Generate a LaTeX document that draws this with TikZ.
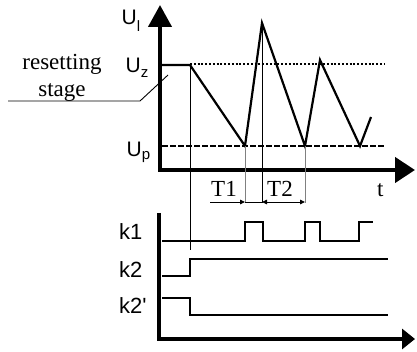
\documentclass[tikz,border=0pt]{standalone}
\usepackage{fontspec}
\setmainfont{Liberation Serif}
\setsansfont{Liberation Sans}
\newfontfamily\ksans{Liberation Sans}
\usetikzlibrary{arrows.meta}
\tikzset{smalltip/.tip={Triangle[length=5pt,width=4.5pt]}}
\begin{document}
\begin{tikzpicture}[x=1pt,y=-1pt,
  axis/.style={line width=4.2pt, line join=miter},
  wave/.style={line width=2.2pt, line join=miter},
  sig/.style={line width=1.8pt, line join=miter},
  fine/.style={line width=0.9pt},
  ulbl/.style={font=\sffamily\fontsize{21}{21}\selectfont, inner sep=0pt, anchor=base west},
  klbl/.style={font=\ksans\fontsize{22}{22}\selectfont, inner sep=0pt, anchor=base west},
  rlbl/.style={font=\rmfamily\fontsize{23}{25}\selectfont, inner sep=0pt, anchor=base},
  tlbl/.style={font=\rmfamily\fontsize{23}{25}\selectfont, inner sep=0pt, anchor=base west},
]
\useasboundingbox (0,0) rectangle (417,352);

% upper axes
\coordinate (ytop) at (160,5);
\coordinate (o) at (160,170);
\coordinate (xend) at (415,170);
\draw[axis, {Triangle[width=23pt,length=22pt]}-{Triangle[width=25pt,length=20pt]}] (ytop) -- (o) -- (xend);

% lower axes
\coordinate (ltop) at (159,213);
\coordinate (lo) at (159,339);
\coordinate (lend) at (415,339);
\draw[axis, -{Triangle[width=20pt,length=13pt]}] (ltop) -- (lo) -- (lend);

% reference levels
\coordinate (dz0) at (190,64);
\coordinate (dz1) at (385,64);
\coordinate (dp0) at (162,146);
\coordinate (dp1) at (385,146);
\draw[line width=1.6pt, dash pattern=on 2pt off 1.8pt] (dz0) -- (dz1);
\draw[line width=1.8pt, dash pattern=on 5.5pt off 2.5pt] (dp0) -- (dp1);

% waveform
\coordinate (w0) at (160,65);
\coordinate (w1) at (190,65);
\coordinate (m1) at (245,146);
\coordinate (p1) at (262,23);
\coordinate (m2) at (305,146);
\coordinate (p2) at (320,60);
\coordinate (m3) at (360,146);
\coordinate (we) at (371,117);
\draw[wave] (w0) -- (w1) -- (m1) -- (p1) -- (m2) -- (p2) -- (m3) -- (we);

% thin vertical markers
\coordinate (v1b) at (190,250);
\coordinate (v2b) at (245,203);
\coordinate (v3b) at (262,203);
\coordinate (v4b) at (305,203);
\draw[fine] (w1) -- (v1b);
\draw[fine, gray] (m1) -- (v2b);
\draw[fine] (p1) -- (v3b);
\draw[fine, gray] (m2) -- (v4b);

% period arrows
\coordinate (a0) at (210,202);
\coordinate (a1) at (245,202);
\coordinate (a2) at (262,202);
\coordinate (a3) at (305,202);
\draw[fine, -{smalltip}] (a0) -- (a1);
\draw[fine] (a1) -- (a2);
\draw[fine, {smalltip}-{smalltip}] (a2) -- (a3);
\node[tlbl] (T1) at (211,197) {T1};
\node[tlbl] (T2) at (267,197) {T2};
\node[tlbl] (t) at (377,197) {t};

% axis labels
\node[ulbl] (Ul) at (121.5,25) {U\raisebox{-7pt}{\fontsize{15}{15}\selectfont l}};
\node[ulbl] (Uz) at (125.5,73) {U\raisebox{-5pt}{\fontsize{15}{15}\selectfont z}};
\node[ulbl] (Up) at (126.5,157) {U\raisebox{-3pt}{\fontsize{15}{15}\selectfont p}};

% resetting stage annotation
\node[rlbl] (rs1) at (62,70) {resetting};
\node[rlbl] (rs2) at (62,97) {stage};
\coordinate (ld0) at (8,101);
\coordinate (ld1) at (140,101);
\coordinate (ld2) at (168,75);
\draw[fine] (ld0) -- (ld1) -- (ld2);

% signals
\draw[sig] (162,241) -- (245,241) -- (245,222) -- (263,222) -- (263,241) -- (305,241) -- (305,222) -- (320,222) -- (320,241) -- (359,241) -- (359,222) -- (373,222);
\draw[sig] (162,276) -- (190,276) -- (190,259) -- (388,259);
\draw[sig] (162,298) -- (190,298) -- (190,315) -- (388,315);
\node[klbl] (k1) at (119,240) {k1};
\node[klbl] (k2) at (119,277) {k2};
\node[klbl] (k2p) at (119,313) {k2'};
\end{tikzpicture}
\end{document}
